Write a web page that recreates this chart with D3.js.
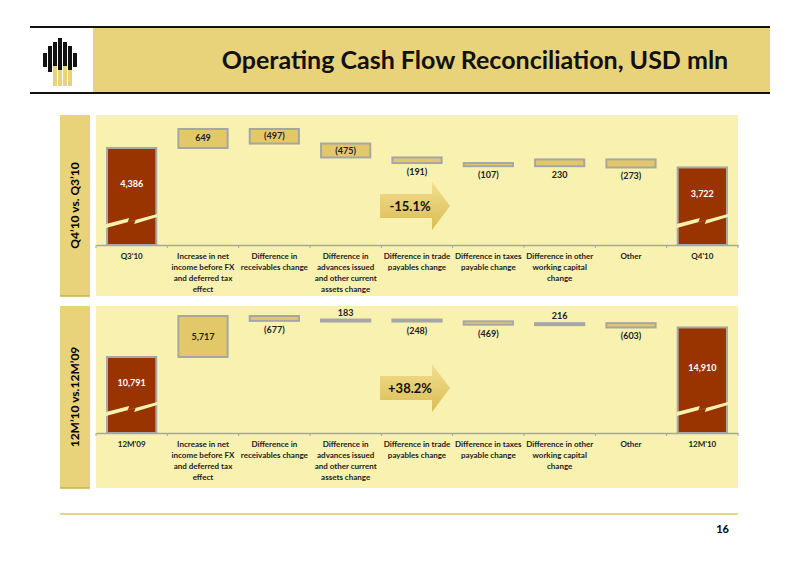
<!DOCTYPE html><html><head><meta charset="utf-8"><script src="https://cdn.jsdelivr.net/npm/d3@7"></script>
<style>body{margin:0;background:#fff}text{font-family:Lato,"Open Sans",sans-serif}</style></head><body><svg id="c" width="800" height="566"></svg>
<script>
const categories=["Increase in net income before FX and deferred tax effect","Difference in receivables change","Difference in advances issued and other current assets change","Difference in trade payables change","Difference in taxes payable change","Difference in other working capital change","Other"];
const catLines=[["Increase in net","income before FX","and deferred tax","effect"],["Difference in","receivables change"],["Difference in","advances issued","and other current","assets change"],["Difference in trade","payables change"],["Difference in taxes","payable change"],["Difference in other","working capital","change"],["Other"]];
const qStart="Q3'10",qEnd="Q4'10",qBase=4386,qDeltas=[649,-497,-475,-191,-107,230,-273],qEndVal=3722,qChange="-15.1%";
const yStart="12M'09",yEnd="12M'10",yBase=10791,yDeltas=[5717,-677,183,-248,-469,216,-603],yEndVal=14910,yChange="+38.2%";
const svg=d3.select("#c");
const fmt=d3.format(",");
// header
svg.append("rect").attr("x",93).attr("y",28).attr("width",677).attr("height",64).attr("fill","#E8D27A");
svg.append("line").attr("x1",30).attr("x2",770).attr("y1",27).attr("y2",27).attr("stroke","#111").attr("stroke-width",2);
svg.append("line").attr("x1",30).attr("x2",770).attr("y1",93).attr("y2",93).attr("stroke","#111").attr("stroke-width",2);
svg.append("text").attr("x",475).attr("y",69).attr("text-anchor","middle").attr("font-size",25).attr("font-weight","bold").attr("fill","#111").text("Operating Cash Flow Reconciliation, USD mln");
// logo
const lg=svg.append("g");
[[43,53,4,14],[48,46,4,26],[53,42,4,30],[58,38,4,34],[63,42,4,30],[68,46,4,26],[73,53,4,14]].forEach(r=>lg.append("rect").attr("x",r[0]).attr("y",r[1]).attr("width",r[2]).attr("height",r[3]).attr("fill","#111"));
[[53,66,4,20],[58,70,4,16],[63,66,4,20],[68,70,4,16]].forEach(r=>lg.append("rect").attr("x",r[0]).attr("y",r[1]).attr("width",r[2]).attr("height",r[3]).attr("fill","#E8D27A"));
// footer
svg.append("line").attr("x1",60).attr("x2",738).attr("y1",514).attr("y2",514).attr("stroke","#E0C860").attr("stroke-width",1.5);
svg.append("text").attr("x",729).attr("y",533).attr("text-anchor","end").attr("font-size",11).attr("font-weight","bold").text("16");

function panel(o){
  const g=svg.append("g");
  g.append("rect").attr("x",60).attr("y",o.top).attr("width",30).attr("height",o.bottom-o.top).attr("fill","#E8D27A");
  g.append("line").attr("x1",60).attr("x2",90).attr("y1",o.bottom).attr("y2",o.bottom).attr("stroke","#C9AE50").attr("stroke-width",1.5);
  g.append("text").attr("transform",`translate(79,${(o.top+o.bottom)/2}) rotate(-90)`).attr("text-anchor","middle").attr("font-size",12).attr("font-weight","bold").text(o.side);
  g.append("rect").attr("x",96).attr("y",o.top).attr("width",642).attr("height",o.bottom-o.top).attr("fill","#F9F1B0");
  const names=[o.start,...categories,o.end];
  const x=d3.scaleBand().domain(names).range([96,738]).paddingInner(0.31).paddingOuter(0.155);
  const y=d3.scaleLinear().domain(o.domain).range([o.axis,o.ref]);
  // axis
  const ax=g.append("g").attr("transform",`translate(0,${o.axis})`).call(d3.axisBottom(x).tickSize(0).tickFormat(""));
  ax.select(".domain").attr("stroke","#A6A6A6").attr("stroke-width",1.5);
  const step=x.step();
  names.forEach((n,i)=>g.append("line").attr("x1",96+i*step).attr("x2",96+i*step).attr("y1",o.axis).attr("y2",o.axis+3).attr("stroke","#A6A6A6"));
  g.append("line").attr("x1",738).attr("x2",738).attr("y1",o.axis).attr("y2",o.axis+3).attr("stroke","#A6A6A6");
  const lines=[[o.start],...catLines,[o.end]];
  names.forEach((n,i)=>{const t=g.append("text").attr("x",x(n)+x.bandwidth()/2).attr("y",o.axis+14).attr("text-anchor","middle").attr("font-size",8).attr("font-weight","bold").attr("fill","#222");
    lines[i].forEach((l,j)=>t.append("tspan").attr("x",x(n)+x.bandwidth()/2).attr("dy",j?11:0).text(l));});
  // base bars
  function base(n,v){
    const bx=x(n),bw=x.bandwidth(),top=y(v);
    g.append("rect").attr("x",bx).attr("y",top).attr("width",bw).attr("height",o.axis-top).attr("fill","#993300").attr("stroke","#A6A6A6").attr("stroke-width",2);
    const by=o.axis-25;
    g.append("path").attr("d",`M${bx-1},${by+4}L${bx+bw*0.45},${by-2}L${bx+bw*0.42},${by+2}L${bx+bw+1},${by-6}L${bx+bw+1},${by-3}L${bx+bw*0.55},${by+4}L${bx+bw*0.58},${by}L${bx-1},${by+8}Z`).attr("fill","#F9F1B0");
    g.append("text").attr("x",bx+bw/2).attr("y",(top+by)/2+3).attr("text-anchor","middle").attr("font-size",9).attr("font-weight","bold").attr("fill","#fff").text(fmt(v));
  }
  base(o.start,o.base); base(o.end,o.endVal);
  let cum=o.base;
  o.deltas.forEach((d,i)=>{
    const n=categories[i],a=y(cum),b=y(cum+d);cum+=d;
    const t=Math.min(a,b),h=Math.max(Math.abs(a-b),2);
    g.append("rect").attr("x",x(n)).attr("y",t).attr("width",x.bandwidth()).attr("height",h).attr("fill","#E3C86A").attr("stroke","#A6A6A6").attr("stroke-width",2);
    const lab=d<0?`(${fmt(-d)})`:fmt(d);
    let ly;
    if(h>=13) ly=t+h/2+3; else if(d>0&&o.posAbove) ly=t-4; else ly=t+h+12;
    g.append("text").attr("x",x(n)+x.bandwidth()/2).attr("y",ly).attr("text-anchor","middle").attr("font-size",9).attr("font-weight","bold").attr("fill","#222").text(lab);
  });
  // arrow
  const ay=o.arrowY,ax0=380;
  const grad=o.gid;
  svg.append("defs").append("linearGradient").attr("id",grad).attr("x1",0).attr("y1",0).attr("x2",0).attr("y2",1)
    .selectAll("stop").data([["0%","#F2DE8E"],["100%","#D9BC55"]]).join("stop").attr("offset",d=>d[0]).attr("stop-color",d=>d[1]);
  g.append("path").attr("d",`M${ax0},${ay-12}L${ax0+52},${ay-12}L${ax0+52},${ay-24}L${ax0+70},${ay}L${ax0+52},${ay+24}L${ax0+52},${ay+12}L${ax0},${ay+12}Z`).attr("fill",`url(#${grad})`);
  g.append("text").attr("x",ax0+30).attr("y",ay+5).attr("text-anchor","middle").attr("font-size",13).attr("font-weight","bold").attr("fill","#111").text(o.change);
}
panel({top:115,bottom:296,axis:245,ref:148,domain:[qBase-97/0.0293,qBase],side:"Q4’10 vs. Q3’10",start:qStart,end:qEnd,base:qBase,deltas:qDeltas,endVal:qEndVal,change:qChange,posAbove:false,arrowY:206,gid:"g1"});
panel({top:306,bottom:488,axis:433,ref:357,domain:[yBase-76/0.00717,yBase],side:"12M’10 vs.12M’09",start:yStart,end:yEnd,base:yBase,deltas:yDeltas,endVal:yEndVal,change:yChange,posAbove:true,arrowY:388,gid:"g2"});
</script></body></html>
